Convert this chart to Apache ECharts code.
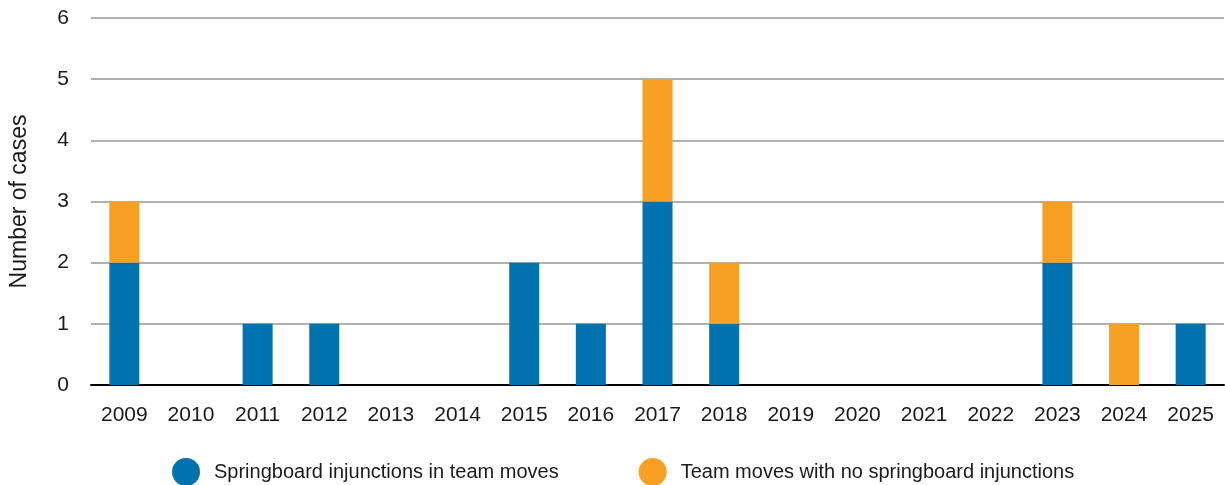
<!DOCTYPE html>
<html>
<head>
<meta charset="utf-8">
<script src="https://cdn.jsdelivr.net/npm/echarts@6/dist/echarts.min.js"></script>
<style>
  html, body { margin: 0; padding: 0; background: #fff; }
  #chart { width: 1225px; height: 485px; }
</style>
</head>
<body>
<div id="chart"></div>
<script>
// years on the x axis
const years = ['2009', '2010', '2011', '2012', '2013', '2014', '2015', '2016', '2017',
  '2018', '2019', '2020', '2021', '2022', '2023', '2024', '2025'];
// cases per year
const withInjunction = [2, 0, 1, 1, 0, 0, 2, 1, 3, 1, 0, 0, 0, 0, 2, 0, 1];
const noInjunction = [1, 0, 0, 0, 0, 0, 0, 0, 2, 1, 0, 0, 0, 0, 1, 1, 0];
const yTicks = [0, 1, 2, 3, 4, 5, 6];

const chart = echarts.init(document.getElementById('chart'));
const font = 'Liberation Sans, Arial, sans-serif';

chart.setOption({
  animation: false,
  textStyle: { fontFamily: font },
  grid: { left: 88, right: 1, top: 18, bottom: 100 },
  legend: {
    left: 167,
    top: 453,
    icon: 'circle',
    itemWidth: 28,
    itemHeight: 28,
    itemGap: 80,
    textStyle: { fontSize: 20, color: '#1a1a1a', fontFamily: font, padding: [0, 0, 0, 9] }
  },
  xAxis: {
    type: 'category',
    data: years,
    axisLine: { lineStyle: { color: '#000', width: 2 } },
    axisTick: { show: false },
    axisLabel: { color: '#1a1a1a', fontSize: 21, margin: 20 }
  },
  yAxis: {
    type: 'value',
    min: yTicks[0],
    max: yTicks[yTicks.length - 1],
    interval: 1,
    name: 'Number of cases',
    nameLocation: 'middle',
    nameGap: 60,
    nameTextStyle: { fontSize: 23, color: '#1a1a1a' },
    axisLine: { show: false },
    axisTick: { show: false },
    axisLabel: { color: '#1a1a1a', fontSize: 21, margin: 22 },
    splitLine: { lineStyle: { color: '#b3b0b0', width: 2 } }
  },
  series: [
    {
      name: 'Springboard injunctions in team moves',
      type: 'bar',
      stack: 'cases',
      barWidth: 30,
      itemStyle: { color: '#0072ae' },
      data: withInjunction
    },
    {
      name: 'Team moves with no springboard injunctions',
      type: 'bar',
      stack: 'cases',
      barWidth: 30,
      itemStyle: { color: '#f7a024' },
      data: noInjunction
    }
  ]
});
</script>
</body>
</html>
